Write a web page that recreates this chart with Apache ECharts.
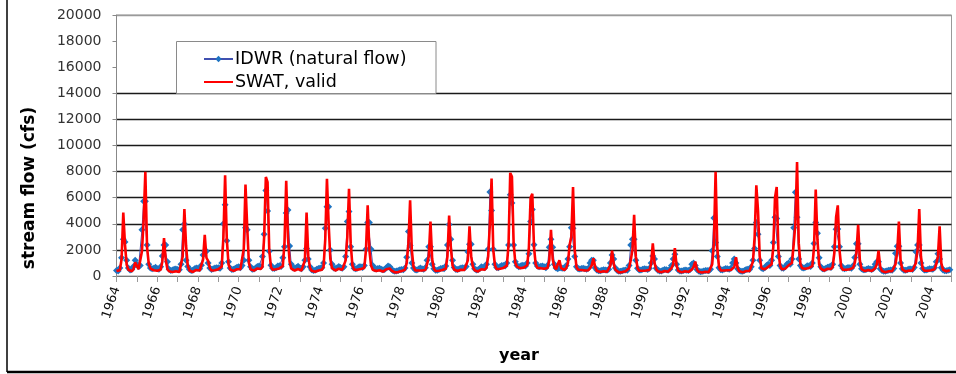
<!DOCTYPE html>
<html>
<head>
<meta charset="utf-8">
<script src="https://cdn.jsdelivr.net/npm/echarts@6/dist/echarts.min.js"></script>
<style>
html,body{margin:0;padding:0;background:#fff;}
#chart{width:956px;height:374px;}
</style>
</head>
<body>
<div id="chart"></div>
<script>
// ---- data (monthly stream flow, cfs), one row per year Jan..Dec ----
const startYear = 1964;
const yTicks = [0, 2000, 4000, 6000, 8000, 10000, 12000, 14000, 16000, 18000, 20000];
const seriesNames = ['IDWR (natural flow)', 'SWAT, valid'];

const swatFlow = [
  [380, 320, 450, 1300, 4870, 2400, 850, 480, 380, 360, 520, 1050],   // 1964
  [780, 520, 620, 1900, 4300, 7980, 2200, 950, 560, 480, 440, 420],   // 1965
  [400, 360, 480, 1100, 2900, 1250, 520, 360, 310, 300, 340, 360],    // 1966
  [330, 300, 380, 1500, 5130, 2300, 800, 420, 320, 310, 380, 460],    // 1967
  [380, 420, 520, 1250, 3150, 1400, 1150, 600, 420, 400, 440, 480],   // 1968
  [520, 460, 720, 3000, 7720, 2800, 900, 500, 400, 390, 450, 520],    // 1969
  [600, 520, 640, 2100, 7000, 3800, 1000, 520, 420, 410, 480, 580],   // 1970
  [620, 540, 700, 3000, 7590, 7200, 2000, 700, 480, 450, 520, 600],   // 1971
  [580, 520, 760, 2600, 7300, 3000, 1100, 560, 440, 420, 460, 540],   // 1972
  [480, 420, 520, 1200, 4870, 1500, 620, 400, 340, 330, 380, 420],    // 1973
  [460, 480, 700, 2800, 7440, 4000, 1300, 600, 450, 420, 480, 560],   // 1974
  [520, 470, 560, 1200, 3000, 6690, 2500, 800, 480, 430, 470, 520],   // 1975
  [540, 500, 620, 2000, 5410, 2000, 800, 480, 400, 380, 420, 440],    // 1976
  [380, 340, 380, 520, 650, 580, 420, 320, 280, 280, 300, 360],       // 1977
  [380, 360, 480, 1000, 2500, 5800, 2000, 700, 420, 380, 420, 480],   // 1978
  [420, 380, 460, 900, 1500, 4180, 1300, 550, 380, 360, 400, 460],    // 1979
  [460, 420, 560, 1500, 4640, 2200, 800, 480, 400, 380, 430, 480],    // 1980
  [480, 460, 540, 1200, 3800, 1500, 700, 440, 360, 350, 420, 520],    // 1981
  [520, 480, 640, 1500, 4000, 7460, 2000, 800, 520, 480, 560, 640],   // 1982
  [620, 580, 800, 2400, 7900, 7600, 2500, 1000, 700, 560, 600, 680],  // 1983
  [640, 600, 820, 2200, 6000, 6300, 2200, 900, 620, 560, 600, 620],   // 1984
  [560, 500, 620, 1200, 3540, 1300, 700, 520, 900, 1200, 600, 480],   // 1985
  [460, 620, 1000, 2400, 3000, 6820, 2000, 700, 480, 430, 460, 480],  // 1986
  [420, 380, 440, 600, 800, 1360, 700, 400, 320, 300, 330, 360],      // 1987
  [340, 320, 380, 800, 1950, 900, 480, 330, 280, 270, 300, 340],      // 1988
  [360, 340, 600, 1200, 2000, 4690, 1500, 600, 400, 360, 400, 440],   // 1989
  [420, 380, 460, 900, 2510, 1000, 520, 360, 300, 290, 340, 380],     // 1990
  [360, 330, 400, 600, 900, 2130, 800, 400, 300, 280, 320, 360],      // 1991
  [340, 320, 380, 500, 700, 1100, 500, 320, 270, 260, 290, 330],      // 1992
  [320, 300, 380, 900, 2500, 7980, 2200, 700, 420, 380, 420, 460],    // 1993
  [440, 400, 460, 560, 700, 1440, 600, 360, 290, 280, 320, 380],      // 1994
  [400, 380, 520, 1100, 3000, 6950, 5000, 1500, 600, 480, 520, 640],  // 1995
  [700, 620, 900, 2200, 6000, 6820, 2000, 800, 520, 480, 560, 700],   // 1996
  [820, 700, 1000, 2400, 4000, 8740, 2500, 900, 600, 520, 560, 640],  // 1997
  [620, 580, 760, 2200, 6620, 2800, 900, 560, 440, 420, 480, 560],    // 1998
  [580, 540, 700, 1800, 4500, 5410, 2000, 700, 480, 440, 480, 540],   // 1999
  [520, 480, 620, 1000, 1800, 3920, 1200, 520, 400, 380, 420, 460],   // 2000
  [420, 380, 440, 600, 900, 1950, 700, 380, 300, 290, 320, 360],      // 2001
  [380, 360, 460, 900, 1800, 4180, 1200, 500, 360, 340, 380, 420],    // 2002
  [440, 400, 520, 1000, 2000, 5130, 1500, 560, 400, 360, 400, 460],   // 2003
  [440, 420, 520, 900, 1500, 3800, 1000, 480, 380, 360, 400, 440]     // 2004
];

const idwrFlow = [
  [420, 380, 620, 1400, 2820, 2600, 1200, 620, 460, 500, 720, 1200],  // 1964
  [900, 720, 800, 3540, 5720, 5720, 2380, 900, 620, 560, 600, 680],   // 1965
  [560, 520, 700, 1540, 2380, 2380, 1100, 520, 420, 460, 520, 540],   // 1966
  [500, 480, 900, 3540, 3980, 1200, 720, 500, 420, 450, 560, 620],    // 1967
  [600, 560, 820, 1600, 1900, 1900, 1000, 620, 500, 560, 620, 640],   // 1968
  [640, 600, 1000, 4000, 5460, 2700, 1100, 620, 500, 520, 600, 680],  // 1969
  [700, 640, 800, 1200, 3700, 3540, 1200, 700, 520, 540, 620, 720],   // 1970
  [760, 700, 1500, 3190, 6560, 4980, 1900, 820, 600, 580, 640, 760],  // 1971
  [780, 720, 1400, 2250, 4820, 5050, 2300, 900, 620, 600, 660, 740],  // 1972
  [620, 560, 700, 1200, 2100, 1300, 700, 480, 420, 440, 520, 580],    // 1973
  [620, 640, 1000, 3660, 5300, 5300, 2000, 900, 620, 580, 640, 720],  // 1974
  [660, 600, 700, 1500, 4180, 4950, 2250, 900, 600, 560, 620, 700],   // 1975
  [700, 660, 800, 2050, 4100, 4100, 2050, 800, 560, 540, 580, 600],   // 1976
  [520, 480, 500, 640, 760, 700, 520, 400, 360, 380, 420, 480],       // 1977
  [500, 480, 620, 1430, 3410, 2330, 1000, 620, 480, 460, 540, 620],   // 1978
  [560, 520, 640, 1200, 2250, 2250, 900, 560, 440, 440, 500, 580],    // 1979
  [600, 560, 760, 2380, 3950, 2820, 1200, 660, 500, 500, 560, 620],   // 1980
  [640, 620, 720, 1860, 2430, 2430, 900, 560, 460, 480, 560, 700],    // 1981
  [680, 640, 900, 2050, 6440, 5020, 2050, 900, 660, 640, 720, 800],   // 1982
  [800, 760, 1000, 2380, 6230, 5590, 2380, 1100, 800, 700, 760, 820], // 1983
  [800, 760, 1000, 1700, 4180, 5100, 2400, 1000, 760, 700, 740, 760], // 1984
  [700, 640, 820, 2200, 2820, 2200, 900, 620, 560, 640, 620, 600],    // 1985
  [600, 800, 1300, 2250, 3700, 3660, 1500, 700, 560, 540, 580, 600],  // 1986
  [560, 520, 600, 1000, 1200, 1200, 640, 460, 400, 400, 440, 480],    // 1987
  [460, 440, 520, 1000, 1600, 1300, 620, 420, 360, 360, 400, 440],    // 1988
  [460, 440, 800, 2380, 2820, 2820, 1200, 600, 460, 460, 520, 560],   // 1989
  [540, 500, 600, 1000, 1540, 1300, 600, 440, 380, 380, 440, 500],    // 1990
  [480, 440, 520, 800, 1300, 1660, 900, 460, 380, 380, 420, 460],     // 1991
  [440, 420, 500, 900, 1000, 800, 500, 380, 320, 340, 380, 420],      // 1992
  [420, 400, 520, 1940, 4440, 2560, 1500, 640, 480, 460, 520, 580],   // 1993
  [560, 520, 600, 1000, 1300, 1000, 560, 420, 360, 360, 420, 500],    // 1994
  [520, 500, 700, 1200, 2100, 4100, 3200, 1200, 620, 560, 640, 800],  // 1995
  [900, 800, 1200, 2560, 4510, 4400, 1500, 800, 620, 600, 700, 900],  // 1996
  [1000, 900, 1300, 3700, 6410, 4510, 1300, 800, 640, 620, 680, 780], // 1997
  [760, 720, 1000, 2500, 4100, 3280, 1390, 700, 560, 540, 600, 680],  // 1998
  [700, 660, 900, 2250, 3590, 3600, 2250, 800, 600, 560, 600, 660],   // 1999
  [640, 600, 780, 1410, 2480, 2480, 900, 560, 480, 480, 520, 580],    // 2000
  [540, 500, 580, 900, 1100, 1100, 560, 420, 360, 360, 400, 440],     // 2001
  [460, 440, 580, 1750, 2280, 2280, 1000, 560, 440, 440, 480, 540],   // 2002
  [540, 500, 660, 1860, 2380, 2380, 1000, 580, 460, 460, 500, 560],   // 2003
  [540, 520, 640, 1100, 1700, 1300, 640, 460, 400, 400, 440, 480]     // 2004
];

function toSeriesData(rows) {
  const out = [];
  rows.forEach((row, i) => {
    row.forEach((v, m) => out.push([startYear + i + m / 12, v]));
  });
  return out;
}

const FONT = '"DejaVu Sans", "Liberation Sans", Arial, sans-serif';
const chart = echarts.init(document.getElementById('chart'), null, {renderer: 'canvas'});

// grid line colours, one per y tick (0 .. 20000)
const gridColors = yTicks.map(v => (v === 0 ? 'rgba(0,0,0,0)' : (v <= 14000 ? '#1a1a1a' : (v === 20000 ? '#9a9a9a' : 'rgba(0,0,0,0)'))));

chart.setOption({
  animation: false,
  backgroundColor: '#ffffff',
  grid: {left: 116.5, right: 4.5, top: 15, bottom: 98, containLabel: false,
         show: true, borderColor: '#9a9a9a', borderWidth: 1, backgroundColor: 'transparent'},
  legend: {
    orient: 'vertical',
    left: 203, top: 50,
    padding: 0,
    itemGap: 5,
    itemWidth: 29, itemHeight: 8,
    textStyle: {fontFamily: FONT, fontSize: 17.5, color: '#000', padding: [0, 0, 0, -3]},
    data: [
      {name: seriesNames[0]},
      {name: seriesNames[1], itemStyle: {color: 'rgba(0,0,0,0)', opacity: 0, borderWidth: 0}}
    ]
  },
  xAxis: {
    type: 'value',
    min: 1964, max: 2005, interval: 1,
    axisLine: {show: true, lineStyle: {color: '#777', width: 1}},
    axisTick: {show: true, length: 6, lineStyle: {color: '#999'}},
    splitLine: {show: false},
    axisLabel: {
      rotate: 72, margin: 11,
      fontFamily: FONT, fontSize: 13, color: '#111',
      formatter: v => (v % 2 === 0 && v < 2005 ? String(v) : '')
    }
  },
  yAxis: {
    type: 'value',
    min: yTicks[0], max: yTicks[yTicks.length - 1], interval: 2000,
    axisLine: {show: true, lineStyle: {color: '#888'}},
    axisTick: {show: true, length: 4, lineStyle: {color: '#888'}},
    axisLabel: {fontFamily: FONT, fontSize: 14, color: '#333', margin: 15, formatter: v => String(v)},
    splitLine: {show: true, lineStyle: {color: gridColors, width: 1.3}}
  },
  graphic: [
    {type: 'rect', z: 1, shape: {x: 176.5, y: 41.5, width: 259.5, height: 52}, style: {fill: '#fff', stroke: '#8a8a8a', lineWidth: 1}},
    {type: 'text', x: 30, y: 188, rotation: Math.PI / 2,
     style: {text: 'stream flow (cfs)', font: 'bold 17px ' + FONT, fill: '#000', textAlign: 'center', textVerticalAlign: 'middle'}},
    {type: 'text', x: 519, y: 356,
     style: {text: 'year', font: 'bold 16px ' + FONT, fill: '#000', textAlign: 'center', textVerticalAlign: 'middle'}},
    {type: 'line', shape: {x1: 7, y1: 0, x2: 7, y2: 372}, style: {stroke: '#000', lineWidth: 1.5}},
    {type: 'line', shape: {x1: 7, y1: 372, x2: 956, y2: 372}, style: {stroke: '#000', lineWidth: 2.5}}
  ],
  series: [
    {
      name: seriesNames[0], type: 'line', z: 3,
      data: toSeriesData(idwrFlow),
      symbol: 'diamond', symbolSize: 7, showSymbol: true,
      lineStyle: {color: '#4050b0', width: 1},
      itemStyle: {color: '#1f74c2', borderWidth: 0}
    },
    {
      name: seriesNames[1], type: 'line', z: 4,
      data: toSeriesData(swatFlow),
      symbol: 'none', showSymbol: false,
      lineStyle: {color: '#ff0000', width: 2.6},
      itemStyle: {color: '#ff0000'}
    }
  ]
});
</script>
</body>
</html>
